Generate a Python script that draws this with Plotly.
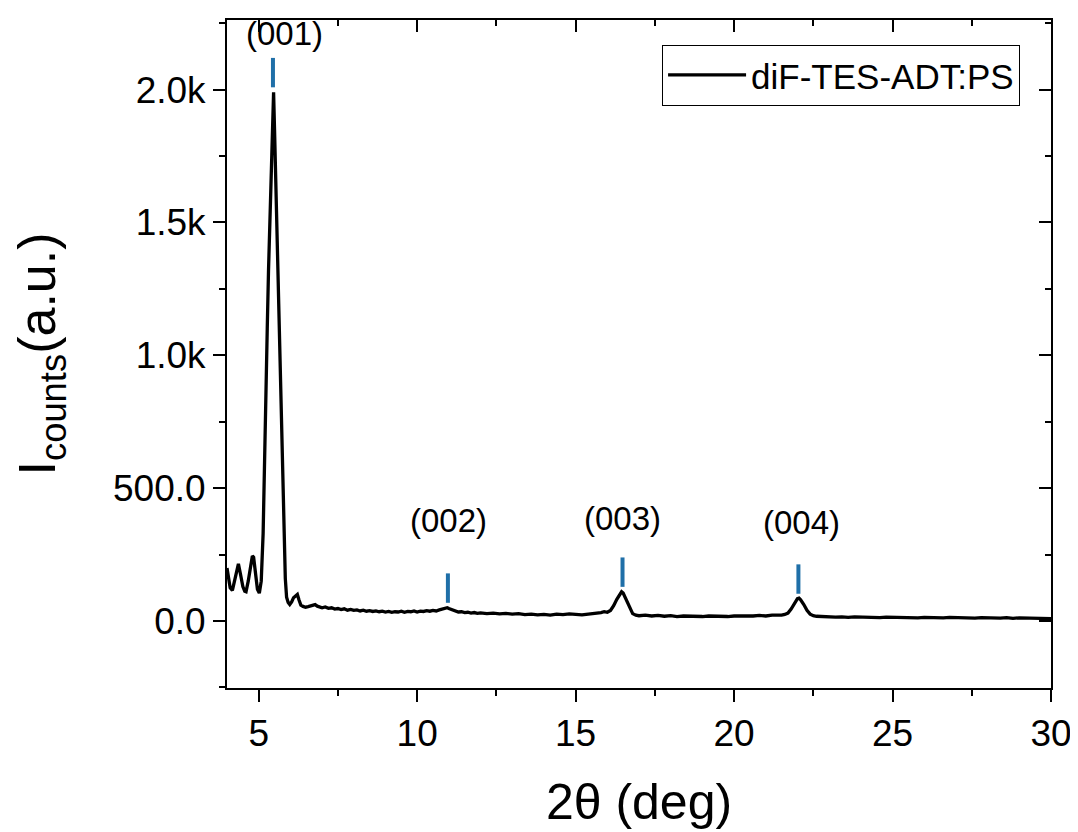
import plotly.graph_objects as go

# ---- data ----
two_theta = [4.00, 4.05, 4.10, 4.17, 4.25, 4.32, 4.36, 4.42, 4.50, 4.56, 4.60, 4.67, 4.74, 4.80, 4.84,
             4.90, 4.96, 5.02, 5.08, 5.14, 5.21, 5.27, 5.31, 5.36, 5.40, 5.44, 5.47, 5.50, 5.53, 5.57,
             5.62, 5.67, 5.71, 5.76, 5.80, 5.84, 5.88, 5.93, 5.98, 6.04, 6.10, 6.16, 6.22, 6.27, 6.33,
             6.40, 6.48, 6.56, 6.64, 6.72, 6.78, 6.85, 6.92, 7.00, 7.1, 7.2, 7.3, 7.4, 7.5, 7.6, 7.7,
             7.8, 7.9, 8.0, 8.1, 8.2, 8.3, 8.4, 8.5, 8.6, 8.7, 8.8, 8.9, 9.0, 9.1, 9.2, 9.3, 9.4, 9.5,
             9.6, 9.7, 9.8, 9.9, 10.0, 10.1, 10.2, 10.3, 10.4, 10.5, 10.6, 10.7, 10.8, 10.9, 10.95, 11.0,
             11.1, 11.2, 11.3, 11.4, 11.5, 11.6, 11.7, 11.8, 11.9, 12.0, 12.2, 12.4, 12.6, 12.8, 13.0,
             13.2, 13.4, 13.6, 13.8, 14.0, 14.2, 14.4, 14.6, 14.8, 15.0, 15.2, 15.4, 15.6, 15.8, 15.9,
             16.0, 16.1, 16.2, 16.3, 16.4, 16.45, 16.5, 16.6, 16.7, 16.8, 16.9, 17.0, 17.2, 17.4, 17.6,
             17.8, 18.0, 18.2, 18.4, 18.6, 18.8, 19.0, 19.2, 19.4, 19.6, 19.8, 20.0, 20.2, 20.4, 20.6,
             20.8, 21.0, 21.2, 21.4, 21.5, 21.6, 21.7, 21.8, 21.9, 22.0, 22.05, 22.1, 22.2, 22.3, 22.4,
             22.5, 22.6, 22.8, 23.0, 23.2, 23.4, 23.6, 23.8, 24.0, 24.2, 24.4, 24.6, 24.8, 25.0, 25.2,
             25.4, 25.6, 25.8, 26.0, 26.2, 26.4, 26.6, 26.8, 27.0, 27.2, 27.4, 27.6, 27.8, 28.0, 28.2,
             28.4, 28.6, 28.8, 29.0, 29.2, 29.4, 29.6, 29.8, 30.0]
intensity = [200, 150, 125, 115, 160, 205, 215, 180, 130, 112, 110, 150, 210, 245, 240,
             170, 120, 105, 150, 330, 820, 1100, 1320, 1550, 1700, 1900, 1990, 1850, 1690, 1500,
             1320, 1050, 820, 560, 320, 160, 90, 70, 62, 72, 88, 95, 100, 80, 60,
             55, 52, 54, 58, 60, 62, 56, 52, 50, 53, 48, 50, 45, 47, 43, 46,
             41, 44, 40, 42, 38, 41, 37, 39, 36, 38, 35, 37, 34, 36, 33, 35, 34, 37,
             33, 36, 35, 38, 34, 37, 36, 39, 37, 40, 38, 42, 44, 48, 50, 47,
             42, 36, 34, 35, 32, 33, 30, 32, 29, 31, 28, 30, 27, 29, 26,
             28, 24, 26, 23, 25, 22, 26, 24, 27, 25, 23, 26, 28, 32, 35,
             33, 40, 58, 82, 104, 110, 105, 80, 48, 28, 22, 20, 22, 19, 21,
             18, 20, 17, 19, 18, 20, 17, 19, 18, 20, 17, 19, 18, 20, 19,
             21, 19, 22, 20, 22, 25, 30, 45, 66, 84, 86, 80, 62, 40, 26,
             20, 18, 16, 17, 15, 16, 14, 16, 15, 14, 16, 13, 15, 14, 15,
             13, 14, 12, 14, 13, 15, 12, 14, 13, 12, 14, 11, 13, 12, 14,
             11, 13, 10, 12, 11, 13, 10, 11, 9]

series_name = "diF-TES-ADT:PS"

peak_labels = ["(001)", "(002)", "(003)", "(004)"]
peak_pos = [5.45, 10.97, 16.48, 22.03]
peak_mark_y = [2064, 124, 184, 158]
label_x = [5.82, 11.0, 16.49, 22.14]
label_y = [2211, 380, 387, 372]

x_range = [4, 30]
y_range = [-252, 2262]
y_tickvals = [0, 500, 1000, 1500, 2000]
y_ticktext = ["0.0", "500.0", "1.0k", "1.5k", "2.0k"]
y_minor_vals = [-250, 250, 750, 1250, 1750, 2250]

FONT = "Liberation Sans, Arial, sans-serif"
BLUE = "#1f6fa8"

fig = go.Figure()
fig.add_trace(go.Scatter(x=two_theta, y=intensity, mode="lines", name=series_name,
                         line=dict(color="black", width=3.3)))
fig.add_trace(go.Scatter(x=peak_pos, y=peak_mark_y, mode="markers", showlegend=False,
                         marker=dict(symbol="line-ns", size=21, color=BLUE,
                                     line=dict(color=BLUE, width=4))))
# dummy trace for mirrored (inside-tick) top/right axes
fig.add_trace(go.Scatter(x=[None], y=[None], xaxis="x2", yaxis="y2", showlegend=False,
                         hoverinfo="skip"))

for lx, ly, txt in zip(label_x, label_y, peak_labels):
    fig.add_annotation(x=lx, y=ly, text=txt, showarrow=False,
                       font=dict(family=FONT, size=33, color="black"))

fig.update_layout(
    width=1078, height=832,
    margin=dict(l=219, r=35, t=12, b=152, autoexpand=False),
    plot_bgcolor="white", paper_bgcolor="white",
    font=dict(family=FONT, color="black"),
    xaxis=dict(range=x_range, showline=True, linecolor="black", linewidth=2,
               ticks="outside", ticklen=12, tickwidth=2, tickcolor="black",
               tick0=0, dtick=5, showgrid=False, zeroline=False, automargin=False,
               tickfont=dict(size=37, family=FONT),
               minor=dict(ticks="outside", ticklen=6, tickwidth=2, tickcolor="black", dtick=2.5, tick0=0),
               title=dict(text="2θ (deg)", font=dict(size=50, family=FONT), standoff=31)),
    yaxis=dict(range=y_range, showline=True, linecolor="black", linewidth=2,
               ticks="outside", ticklen=12, tickwidth=2, tickcolor="black",
               tickmode="array", tickvals=y_tickvals, ticktext=y_ticktext,
               showgrid=False, zeroline=False, automargin=False,
               tickfont=dict(size=37, family=FONT),
               minor=dict(ticks="outside", ticklen=6, tickwidth=2, tickcolor="black",
                          tickmode="array", tickvals=y_minor_vals),
               title=dict(text="I<sub>counts</sub>(a.u.)", font=dict(size=52, family=FONT), standoff=50)),
    xaxis2=dict(range=x_range, overlaying="x", side="top", anchor="y2", showline=True,
                linecolor="black", linewidth=2, ticks="inside", ticklen=12, tickwidth=2,
                tickcolor="black", tick0=0, dtick=5, showticklabels=False, showgrid=False,
                zeroline=False, automargin=False,
                minor=dict(ticks="inside", ticklen=6, tickwidth=2, tickcolor="black", dtick=2.5, tick0=0)),
    yaxis2=dict(range=y_range, overlaying="y", side="right", anchor="x2", showline=True,
                linecolor="black", linewidth=2, ticks="inside", ticklen=12, tickwidth=2,
                tickcolor="black", tickmode="array", tickvals=y_tickvals, showticklabels=False,
                showgrid=False, zeroline=False, automargin=False,
                minor=dict(ticks="inside", ticklen=6, tickwidth=2, tickcolor="black",
                           tickmode="array", tickvals=y_minor_vals)),
    legend=dict(x=0.528, y=0.963, xanchor="left", yanchor="top",
                bordercolor="black", borderwidth=1, bgcolor="white", itemwidth=78,
                font=dict(size=35, family=FONT)),
    showlegend=True,
)

fig.write_html("out.html")
